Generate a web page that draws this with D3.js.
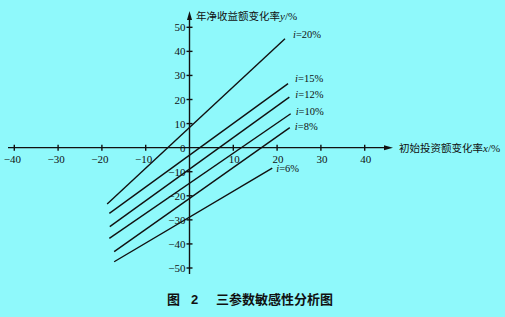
<!DOCTYPE html>
<html>
<head>
<meta charset="utf-8">
<script src="https://cdn.jsdelivr.net/npm/d3@7"></script>
<style>
  html, body { margin: 0; padding: 0; background: #8ff9fb; }
  svg { display: block; }
  .tick-label { font-family: "Liberation Serif", "DejaVu Serif", serif; font-size: 11px; fill: #111; }
  .cjk { font-family: "Noto Sans CJK SC", sans-serif; fill: #111; }
</style>
</head>
<body>
<div id="chart"></div>
<script>
// tick values
const xTicks = [-40, -30, -20, -10, 10, 20, 30, 40];
const yTicks = [50, 40, 30, 20, 10, 0, -10, -20, -30, -40, -50];

// series: discount rate and line end points (x %, y %)
const rates = ['20%', '15%', '12%', '10%', '8%', '6%'];
const xStart = [-18.8, -18.3, -18.2, -18.3, -17.2, -17.2];
const yStart = [-23.4, -27.3, -32.8, -37.7, -43.2, -47.4];
const xEnd = [21.8, 22.5, 22.8, 23.1, 22.9, 18.9];
const yEnd = [45.2, 26.6, 21.0, 14.1, 8.3, -8.5];

const W = 505, H = 317;

const svg = d3.select('#chart')
    .append('svg')
    .attr('width', W)
    .attr('height', H);

const x = d3.scaleLinear().domain([-40, 40]).range([14.3, 364.7]);
const y = d3.scaleLinear().domain([-50, 50]).range([268, 27.3]);

const x0 = x(0), y0 = y(0);
const ink = '#111';
const sw = 1.4;

// axes lines
svg.append('line')
    .attr('x1', 8).attr('x2', 386)
    .attr('y1', y0).attr('y2', y0)
    .attr('stroke', ink).attr('stroke-width', sw);
svg.append('path')
    .attr('d', `M393,${y0} L384,${y0 - 2.5} L384,${y0 + 2.5} Z`)
    .attr('fill', ink);

svg.append('line')
    .attr('x1', x0).attr('x2', x0)
    .attr('y1', 274).attr('y2', 19)
    .attr('stroke', ink).attr('stroke-width', sw);
svg.append('path')
    .attr('d', `M${x0},11 L${x0 - 2.5},20 L${x0 + 2.5},20 Z`)
    .attr('fill', ink);

// x ticks
svg.selectAll('.xt')
    .data(xTicks)
    .enter()
    .append('line')
    .attr('x1', d => x(d)).attr('x2', d => x(d))
    .attr('y1', y0 - 3).attr('y2', y0 + 3)
    .attr('stroke', ink).attr('stroke-width', sw);

svg.selectAll('.xl')
    .data(xTicks)
    .enter()
    .append('text')
    .attr('class', 'tick-label')
    .attr('x', d => x(d) + (d < 0 ? -2 : 1))
    .attr('y', y0 + 15)
    .attr('text-anchor', 'middle')
    .text(d => d < 0 ? '\u2212' + Math.abs(d) : d);

// y ticks
svg.selectAll('.yt')
    .data(yTicks.filter(d => d !== 0))
    .enter()
    .append('line')
    .attr('x1', x0 - 3).attr('x2', x0 + 3)
    .attr('y1', d => y(d)).attr('y2', d => y(d))
    .attr('stroke', ink).attr('stroke-width', sw);

svg.selectAll('.yl')
    .data(yTicks)
    .enter()
    .append('text')
    .attr('class', 'tick-label')
    .attr('x', x0 - 4)
    .attr('y', d => y(d) + 4)
    .attr('text-anchor', 'end')
    .text(d => d < 0 ? '\u2212' + Math.abs(d) : d);

// sensitivity lines
const idx = d3.range(rates.length);
svg.selectAll('.rate')
    .data(idx)
    .enter()
    .append('line')
    .attr('x1', i => x(xStart[i])).attr('y1', i => y(yStart[i]))
    .attr('x2', i => x(xEnd[i])).attr('y2', i => y(yEnd[i]))
    .attr('stroke', ink).attr('stroke-width', sw);

// line labels
const labelDx = [8, 7, 6, 5, 5, 4];
const labelDy = [-1, -2, 1, 1, 2, 4];
const labels = svg.selectAll('.rl')
    .data(idx)
    .enter()
    .append('text')
    .attr('class', 'tick-label')
    .attr('x', i => x(xEnd[i]) + labelDx[i])
    .attr('y', i => y(yEnd[i]) + labelDy[i])
    .style('font-size', '10.5px');
labels.append('tspan').style('font-style', 'italic').text('i');
labels.append('tspan').text(i => '=' + rates[i]);

// axis titles
const xTitle = svg.append('text')
    .attr('class', 'cjk')
    .attr('x', 399).attr('y', y0 + 4)
    .style('font-size', '10.5px');
xTitle.append('tspan').text('初始投资额变化率');
xTitle.append('tspan').attr('class', 'tick-label').style('font-style', 'italic').text('x');
xTitle.append('tspan').attr('class', 'tick-label').text('/%');

const yTitle = svg.append('text')
    .attr('class', 'cjk')
    .attr('x', 196).attr('y', 20)
    .style('font-size', '10.5px');
yTitle.append('tspan').text('年净收益额变化率');
yTitle.append('tspan').attr('class', 'tick-label').style('font-style', 'italic').text('y');
yTitle.append('tspan').attr('class', 'tick-label').text('/%');

// caption
svg.append('text')
    .attr('class', 'cjk')
    .attr('x', 167).attr('y', 304)
    .style('font-size', '13px').style('font-weight', 'bold')
    .text('图');
svg.append('text')
    .attr('x', 191).attr('y', 304)
    .style('font-family', 'Liberation Sans, sans-serif')
    .style('font-size', '13px').style('font-weight', 'bold')
    .attr('fill', ink)
    .text('2');
svg.append('text')
    .attr('class', 'cjk')
    .attr('x', 216).attr('y', 304)
    .style('font-size', '13px').style('font-weight', 'bold')
    .text('三参数敏感性分析图');
</script>
</body>
</html>
